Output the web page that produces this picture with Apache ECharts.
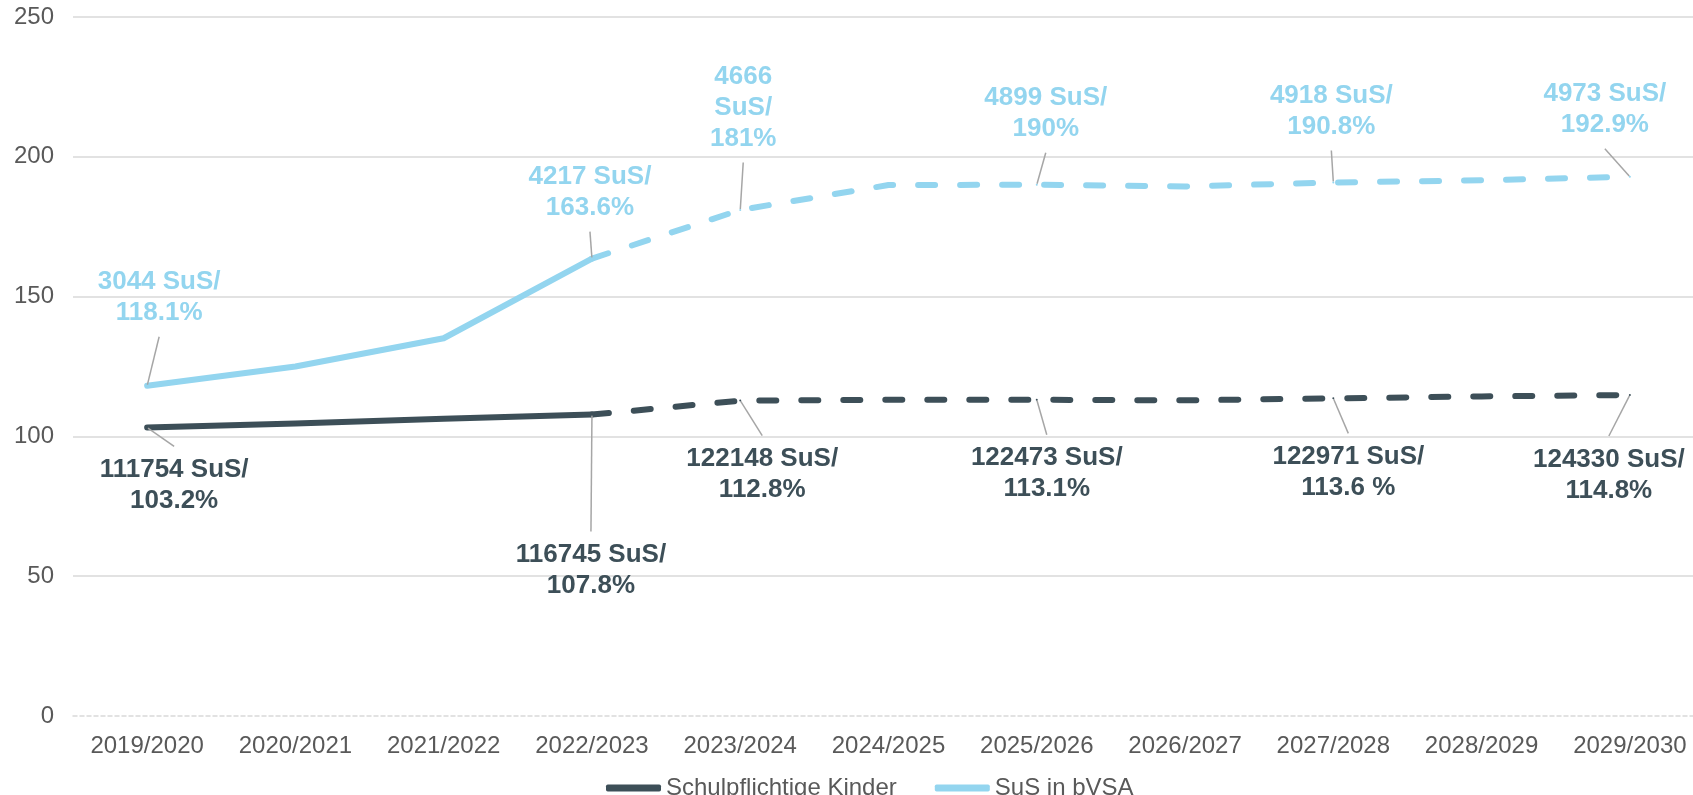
<!DOCTYPE html>
<html>
<head>
<meta charset="utf-8">
<script src="https://cdn.jsdelivr.net/npm/echarts@6/dist/echarts.min.js"></script>
<style>
html,body{margin:0;padding:0;background:#fff;}
#chart{width:1693px;height:795px;}
</style>
</head>
<body>
<div id="chart"></div>
<script>
// ---- data ----
var categories = ['2019/2020','2020/2021','2021/2022','2022/2023','2023/2024','2024/2025','2025/2026','2026/2027','2027/2028','2028/2029','2029/2030'];
var kinderValues = [103.2, 104.6, 106.3, 107.8, 112.8, 113.1, 113.1, 112.9, 113.6, 114.3, 114.8];
var bvsaValues   = [118.1, 125.0, 135.1, 163.6, 181.0, 189.9, 190.0, 189.4, 190.8, 191.6, 192.9];
var kinderLabels = ['111754 SuS/\n103.2%', '', '', '116745 SuS/\n107.8%', '122148 SuS/\n112.8%', '', '122473 SuS/\n113.1%', '', '122971 SuS/\n113.6 %', '', '124330 SuS/\n114.8%'];
var bvsaLabels   = ['3044 SuS/\n118.1%', '', '', '4217 SuS/\n163.6%', '4666\nSuS/\n181%', '', '4899 SuS/\n190%', '', '4918 SuS/\n190.8%', '', '4973 SuS/\n192.9%'];
var lastActualIndex = 3; // 2022/2023: solid up to here, dashed afterwards
var yTicks = {min: 0, max: 250, interval: 50};

// ---- label placement offsets (style, px relative to point) ----
var kinderOffsets = [[27,58],[0,0],[0,0],[-1,156],[22,74],[0,0],[10,74],[0,0],[15,74],[0,0],[-21,80]];
var bvsaOffsets   = [[12,-88],[0,0],[0,0],[-2,-66],[3,-102],[0,0],[9,-71],[0,0],[-2,-71],[0,0],[-25,-67]];

var DARK = '#3d4f58';
var LIGHT = '#93d5ef';
var FONT = "'Liberation Sans', Arial, sans-serif";

function buildData(values, labels, from, to) {
  return values.map(function (v, i) {
    if (i < from || i > to) return '-';
    var show = labels[i] !== '' && !(from > 0 && i === from);
    return { value: v, label: { show: show }, labelLine: { show: show } };
  });
}

function makeSeries(name, values, labels, offsets, color, dashed) {
  var from = dashed ? lastActualIndex : 0;
  var to = dashed ? values.length - 1 : lastActualIndex;
  return {
    name: name,
    type: 'line',
    data: buildData(values, labels, from, to),
    symbol: 'circle',
    symbolSize: 2,
    showSymbol: true,
    itemStyle: { color: color },
    lineStyle: {
      color: color, width: 6, cap: 'round', join: 'round',
      type: dashed ? [17, 25] : 'solid'
    },
    label: {
      show: false,
      color: color,
      fontFamily: FONT,
      fontSize: 26,
      fontWeight: 'bold',
      lineHeight: 31,
      align: 'center',
      padding: [8, 6, 8, 6],
      formatter: function (p) { return labels[p.dataIndex]; }
    },
    labelLine: {
      show: false,
      lineStyle: { color: '#a6a6a6', width: 1.5 }
    },
    labelLayout: function (params) {
      var o = offsets[params.dataIndex];
      return {
        x: params.rect.x + params.rect.width / 2 + o[0],
        y: params.rect.y + params.rect.height / 2 + o[1],
        align: 'center',
        verticalAlign: 'middle'
      };
    },
    emphasis: { disabled: true },
    animation: false,
    z: dashed ? 2 : 3
  };
}

var chart = echarts.init(document.getElementById('chart'), null, { renderer: 'canvas' });
chart.setOption({
  backgroundColor: '#ffffff',
  animation: false,
  textStyle: { fontFamily: FONT },
  grid: { left: 73, top: 17, width: 1631, height: 699, containLabel: false, outerBoundsMode: 'none' },
  legend: {
    data: ['Schulpflichtige Kinder', 'SuS in bVSA'],
    left: 601,
    top: 771,
    icon: 'roundRect',
    itemWidth: 55,
    itemHeight: 7,
    itemGap: 38,
    textStyle: { color: '#595959', fontSize: 24, fontFamily: FONT }
  },
  xAxis: {
    type: 'category',
    data: categories,
    boundaryGap: true,
    axisTick: { show: false },
    axisLine: { show: true, lineStyle: { color: '#d9d9d9', width: 1.5, type: [4, 3] } },
    axisLabel: { color: '#595959', fontSize: 24, margin: 18, fontFamily: FONT, interval: 0 }
  },
  yAxis: {
    type: 'value',
    min: yTicks.min,
    max: yTicks.max,
    interval: yTicks.interval,
    axisLine: { show: false },
    axisTick: { show: false },
    axisLabel: { color: '#595959', fontSize: 24, margin: 19, fontFamily: FONT },
    splitLine: { show: true, showMinLine: false, lineStyle: { color: '#d9d9d9', width: 1.5 } }
  },
  series: [
    makeSeries('Schulpflichtige Kinder', kinderValues, kinderLabels, kinderOffsets, DARK, false),
    makeSeries('SuS in bVSA', bvsaValues, bvsaLabels, bvsaOffsets, LIGHT, false),
    makeSeries('Schulpflichtige Kinder', kinderValues, kinderLabels, kinderOffsets, DARK, true),
    makeSeries('SuS in bVSA', bvsaValues, bvsaLabels, bvsaOffsets, LIGHT, true)
  ]
});
</script>
</body>
</html>
